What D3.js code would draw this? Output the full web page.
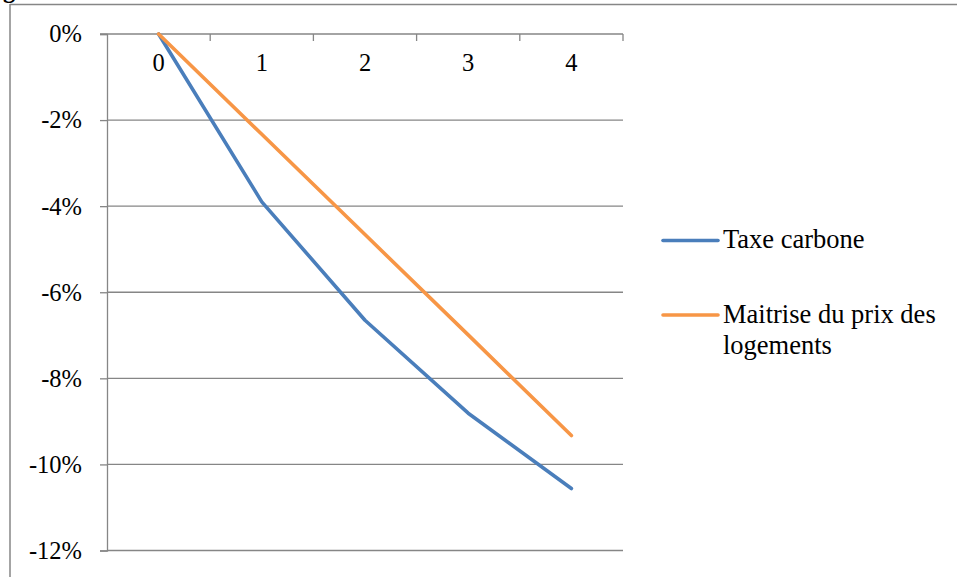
<!DOCTYPE html>
<html>
<head>
<meta charset="utf-8">
<script src="https://cdn.jsdelivr.net/npm/d3@7"></script>
<style>
  html, body { margin: 0; padding: 0; background: #fff; }
  svg { display: block; }
  svg text { font-family: "Liberation Serif", "Times New Roman", Times, Tinos, "DejaVu Serif", serif !important; fill: #000; }
</style>
</head>
<body>
<svg id="chart" width="959" height="577"></svg>
<script>
const categories = ["0", "1", "2", "3", "4"];
const taxeCarbone = [0, -0.039, -0.0665, -0.0881, -0.1056];
const maitrisePrix = [0, -0.0233, -0.0466, -0.0699, -0.0933];
const yTicks = [0, -0.02, -0.04, -0.06, -0.08, -0.10, -0.12];
const seriesNames = ["Taxe carbone", "Maitrise du prix des logements"];
const seriesColors = ["#4a7ebb", "#f79646"];

const svg = d3.select("#chart");
const axisColor = "#868686";
const fontSize = 24.5;
const legendFontSize = 26.5;
const fontFam = '"Liberation Serif", "Times New Roman", Times, Tinos, "DejaVu Serif", serif';

// Outer frame (partial, cropped)
svg.append("line").attr("x1", 10).attr("x2", 957).attr("y1", 4.5).attr("y2", 4.5)
  .attr("stroke", axisColor).attr("stroke-width", 1.5);
svg.append("line").attr("x1", 10).attr("x2", 10).attr("y1", 4).attr("y2", 577)
  .attr("stroke", axisColor).attr("stroke-width", 1.5);
// cropped title glyph
svg.append("text").attr("x", 3).attr("y", -2).style("font-size", fontSize + "px")
  .style("font-weight", "bold").text("g");

const plot = { left: 107, right: 623, top: 34, bottom: 550.5 };

const x = d3.scaleBand().domain(categories).range([plot.left, plot.right]).paddingInner(0).paddingOuter(0);
const y = d3.scaleLinear().domain([-0.12, 0]).range([plot.bottom, plot.top]);

// Gridlines
svg.append("g").selectAll("line").data(yTicks.filter(d => d !== 0)).join("line")
  .attr("x1", plot.left).attr("x2", plot.right)
  .attr("y1", d => y(d)).attr("y2", d => y(d))
  .attr("stroke", axisColor).attr("stroke-width", 1.3);

// Y axis
const yAxis = d3.axisLeft(y).tickValues(yTicks).tickSize(7).tickPadding(18)
  .tickFormat(d => Math.round(d * 100) + "%");
const gy = svg.append("g").attr("transform", `translate(${plot.left},0)`).call(yAxis);
gy.attr("font-family", fontFam).attr("font-size", fontSize);
gy.select(".domain").attr("stroke", axisColor).attr("stroke-width", 1.3);
gy.selectAll(".tick line").attr("stroke", axisColor).attr("stroke-width", 1.3);
gy.selectAll(".tick text").style("font-size", fontSize + "px")
  .attr("fill", "#000").attr("dy", "0.32em");

// X axis at top (y=0), with ticks at category boundaries pointing down
svg.append("line").attr("x1", plot.left - 7).attr("x2", plot.right)
  .attr("y1", y(0)).attr("y2", y(0)).attr("stroke", axisColor).attr("stroke-width", 1.3);
const boundaries = categories.slice(1).map(c => x(c)).concat([plot.right]);
svg.append("g").selectAll("line").data(boundaries).join("line")
  .attr("x1", d => d).attr("x2", d => d)
  .attr("y1", y(0)).attr("y2", y(0) + 7)
  .attr("stroke", axisColor).attr("stroke-width", 1.3);
svg.append("g").selectAll("text").data(categories).join("text")
  .attr("x", d => x(d) + x.bandwidth() / 2)
  .attr("y", y(0) + 37)
  .attr("text-anchor", "middle")
  .style("font-size", fontSize + "px")
  .text(d => d);

// Lines
const line = d3.line().x((d, i) => x(categories[i]) + x.bandwidth() / 2).y(d => y(d));
[taxeCarbone, maitrisePrix].forEach((s, i) => {
  svg.append("path").datum(s).attr("d", line)
    .attr("fill", "none").attr("stroke", seriesColors[i])
    .attr("stroke-width", 3.6).attr("stroke-linejoin", "round").attr("stroke-linecap", "round");
});

// Legend
const legendItems = [
  { lineY: 240.5, lines: ["Taxe carbone"] },
  { lineY: 315, lines: ["Maitrise du prix des", "logements"] }
];
legendItems.forEach((item, i) => {
  svg.append("line").attr("x1", 663).attr("x2", 718)
    .attr("y1", item.lineY).attr("y2", item.lineY)
    .attr("stroke", seriesColors[i]).attr("stroke-width", 3.6).attr("stroke-linecap", "round");
  const t = svg.append("text").attr("x", 723).attr("y", item.lineY + 7.5)
    .style("font-size", legendFontSize + "px");
  item.lines.forEach((l, j) => {
    t.append("tspan").attr("x", 723).attr("dy", j === 0 ? 0 : 31.6).text(l);
  });
});
</script>
</body>
</html>
